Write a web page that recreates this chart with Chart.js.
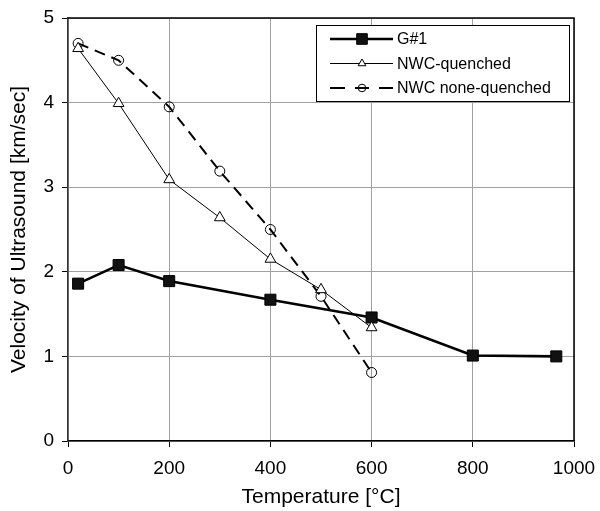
<!DOCTYPE html>
<html>
<head>
<meta charset="utf-8">
<script src="https://cdn.jsdelivr.net/npm/chart.js@4/dist/chart.umd.min.js"></script>
<style>
  html, body { margin: 0; padding: 0; background: #fff; }
  #wrap { width: 600px; height: 511px; }
</style>
</head>
<body>
<div id="wrap"><canvas id="c" width="600" height="511"></canvas></div>
<script>
// ---- data ----
const seriesNames = ["G#1", "NWC-quenched", "NWC none-quenched"];
const g1Temps = [20, 100, 200, 400, 600, 800, 965];
const g1Velocity = [1.86, 2.08, 1.89, 1.67, 1.46, 1.01, 1.00];
const nwcTemps = [20, 100, 200, 300, 400, 500, 600];
const nwcQuenched = [4.64, 3.99, 3.09, 2.64, 2.15, 1.79, 1.34];
const nwcNoneQuenched = [4.70, 4.50, 3.95, 3.19, 2.50, 1.71, 0.81];
const xTicks = [0, 200, 400, 600, 800, 1000];
const yTicks = [0, 1, 2, 3, 4, 5];
const xTitle = "Temperature [°C]";
const yTitle = "Velocity of Ultrasound [km/sec]";

const FONT = "'Liberation Sans', Arial, sans-serif";

function pts(xs, ys) { return xs.map((x, i) => ({ x: x, y: ys[i] })); }

const datasets = [
  {
    label: seriesNames[1],
    data: pts(nwcTemps, nwcQuenched),
    borderColor: '#000', borderWidth: 1,
    pointStyle: 'triangle', pointRadius: 6.2, pointBorderWidth: 1,
    pointBackgroundColor: '#fff', pointBorderColor: '#000',
    legendMarkerRadius: 4.5
  },
  {
    label: seriesNames[2],
    data: pts(nwcTemps, nwcNoneQuenched),
    borderColor: '#000', borderWidth: 2, borderDash: [11, 7],
    pointStyle: 'circle', pointRadius: 5, pointBorderWidth: 1,
    pointBackgroundColor: 'rgba(255,255,255,0)', pointBorderColor: '#000',
    legendMarkerRadius: 3.8
  },
  {
    label: seriesNames[0],
    data: pts(g1Temps, g1Velocity),
    borderColor: '#000', borderWidth: 2.6,
    pointStyle: 'rect', pointRadius: 7.8, pointBorderWidth: 1,
    pointBackgroundColor: '#111', pointBorderColor: '#000',
    legendMarkerRadius: 7.5
  }
];
datasets.forEach(d => { d.fill = false; d.tension = 0; d.pointHoverRadius = d.pointRadius; });

// frame around plot area (top/right border)
const framePlugin = {
  id: 'frame',
  afterDatasetsDraw(chart) {
    const { ctx, chartArea: a } = chart;
    ctx.save();
    ctx.strokeStyle = '#000';
    ctx.lineWidth = 1.5;
    ctx.beginPath();
    ctx.moveTo(a.left, a.top);
    ctx.lineTo(a.right, a.top);
    ctx.lineTo(a.right, a.bottom);
    ctx.stroke();
    ctx.restore();
  }
};

// legend box inside plot, top-right
const legendOrder = [seriesNames[0], seriesNames[1], seriesNames[2]];
const legendPlugin = {
  id: 'boxLegend',
  afterDraw(chart) {
    const { ctx } = chart;
    const bx = 316, by = 25, bw = 253, bh = 76;
    ctx.save();
    ctx.fillStyle = '#fff';
    ctx.fillRect(bx, by, bw, bh);
    ctx.strokeStyle = '#000';
    ctx.lineWidth = 1;
    ctx.strokeRect(bx + 0.5, by + 0.5, bw, bh);
    const rowsY = [39, 63.5, 88];
    legendOrder.forEach((name, i) => {
      const d = chart.data.datasets.find(ds => ds.label === name);
      const y = rowsY[i];
      ctx.save();
      ctx.strokeStyle = d.borderColor;
      ctx.lineWidth = d.borderWidth;
      if (d.borderDash) {
        ctx.beginPath();
        ctx.moveTo(330, y); ctx.lineTo(345, y);
        ctx.moveTo(355, y); ctx.lineTo(369, y);
        ctx.moveTo(379, y); ctx.lineTo(393, y);
        ctx.stroke();
      } else {
        ctx.beginPath();
        ctx.moveTo(330, y); ctx.lineTo(393, y);
        ctx.stroke();
      }
      ctx.restore();
      ctx.save();
      ctx.strokeStyle = d.pointBorderColor;
      ctx.fillStyle = d.pointBackgroundColor;
      ctx.lineWidth = 1;
      Chart.helpers.drawPoint(ctx, { pointStyle: d.pointStyle, radius: d.legendMarkerRadius, rotation: 0, borderWidth: 1 }, 362, y);
      ctx.restore();
      ctx.fillStyle = '#000';
      ctx.font = '16px ' + FONT;
      ctx.textBaseline = 'middle';
      ctx.textAlign = 'left';
      ctx.fillText(name, 397, y + 1);
    });
    ctx.restore();
  }
};

new Chart(document.getElementById('c'), {
  type: 'line',
  data: { datasets: datasets },
  options: {
    responsive: false,
    animation: false,
    devicePixelRatio: 1,
    layout: { padding: { top: 18, right: 26, left: 0, bottom: 0 } },
    plugins: { legend: { display: false }, tooltip: { enabled: false } },
    scales: {
      x: {
        type: 'linear',
        min: xTicks[0], max: xTicks[xTicks.length - 1],
        afterBuildTicks(s) { s.ticks = xTicks.map(v => ({ value: v })); },
        afterFit(s) { s.height = 70; s.paddingLeft = 0; s.paddingRight = 0; },
        ticks: { color: '#000', font: { family: FONT, size: 19 }, padding: 10, maxRotation: 0, callback: v => String(v) },
        grid: { color: '#a0a0a0', lineWidth: 1, tickColor: '#000', tickLength: 6 },
        border: { color: '#000', width: 1.5 },
        title: { display: true, text: xTitle, color: '#000', font: { family: FONT, size: 21 }, padding: { top: 0, bottom: 1 } }
      },
      y: {
        type: 'linear',
        min: yTicks[0], max: yTicks[yTicks.length - 1],
        afterBuildTicks(s) { s.ticks = yTicks.map(v => ({ value: v })); },
        afterFit(s) { s.width = 68; s.paddingTop = 0; s.paddingBottom = 0; },
        ticks: { color: '#000', font: { family: FONT, size: 19 }, padding: 8, callback: v => String(v) },
        grid: { color: '#a0a0a0', lineWidth: 1, tickColor: '#000', tickLength: 6 },
        border: { color: '#333', width: 1.5 },
        title: { display: true, text: yTitle, color: '#000', font: { family: FONT, size: 21 }, padding: { top: 7, bottom: 0 } }
      }
    }
  },
  plugins: [framePlugin, legendPlugin]
});
</script>
</body>
</html>
